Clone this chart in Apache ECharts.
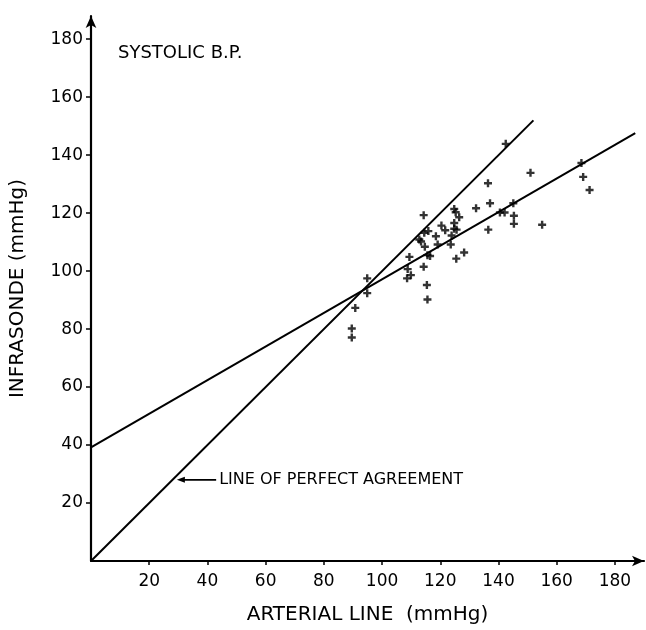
<!DOCTYPE html>
<html>
<head>
<meta charset="utf-8">
<title>Systolic B.P.</title>
<script src="https://cdn.jsdelivr.net/npm/echarts@6/dist/echarts.min.js"></script>
<style>
  html, body { margin: 0; padding: 0; background: #fff; }
  #main { width: 646px; height: 630px; }
</style>
</head>
<body>
<div id="main"></div>
<script>
// arterial line (x) vs infrasonde (y), mmHg
var points = [
  [89.6, 80.2], [89.6, 77.1], [90.8, 87.3], [94.9, 92.4], [94.9, 97.5],
  [108.6, 97.5], [109.9, 98.6], [108.8, 100.7], [109.4, 104.9], [114.3, 101.5],
  [115.4, 95.2], [115.6, 90.2], [115.6, 105.5], [116.5, 105.2], [114.7, 108.4],
  [112.8, 110.9], [113.4, 110.2], [114.5, 113.2], [115.9, 113.8], [114.3, 119.3],
  [118.5, 112.0], [119.1, 109.2], [120.4, 115.7], [121.7, 114.1], [123.6, 109.2],
  [123.9, 112.3], [124.8, 114.6], [124.8, 116.6], [125.6, 114.3], [124.8, 121.4],
  [125.3, 120.3], [126.5, 118.6], [125.5, 104.3], [128.2, 106.4], [132.3, 121.7],
  [136.4, 130.3], [137.1, 123.4], [136.5, 114.3], [140.5, 120.2], [142.1, 120.2],
  [145.1, 123.4], [145.3, 119.1], [145.3, 116.3], [151.0, 133.9], [155.0, 116.0],
  [168.5, 137.3], [169.1, 132.5], [171.3, 128.0], [142.5, 143.9]
];
var perfectLine = [[0, 0], [152, 152]];
var fitLine = [[0, 39.2], [187, 147.6]];
var tickValues = [20, 40, 60, 80, 100, 120, 140, 160, 180];

var font = 'DejaVu Sans';
var chart = echarts.init(document.getElementById('main'));

var option = {
  animation: false,
  backgroundColor: '#fff',
  title: {
    text: 'SYSTOLIC B.P.',
    left: 113,
    top: 39,
    textStyle: { fontFamily: font, fontWeight: 'normal', fontSize: 18, color: '#000' }
  },
  grid: { left: 87, right: 2, top: 16, bottom: 64 },
  xAxis: {
    type: 'value',
    min: 0,
    max: 190,
    interval: 20,
    name: 'ARTERIAL LINE  (mmHg)',
    nameLocation: 'middle',
    nameGap: 44,
    nameTextStyle: { fontFamily: font, fontSize: 20, color: '#000' },
    splitLine: { show: false },
    axisLine: { lineStyle: { color: '#000', width: 2.2 }, symbol: ['none', 'arrow'], symbolSize: [8, 12] },
    axisTick: { lineStyle: { color: '#000', width: 1.5 }, length: 4, customValues: tickValues },
    axisLabel: {
      fontFamily: font, fontSize: 17, color: '#000', margin: 12,
      customValues: tickValues
    }
  },
  yAxis: {
    type: 'value',
    min: 0,
    max: 188,
    interval: 20,
    name: 'INFRASONDE (mmHg)',
    nameLocation: 'middle',
    nameGap: 63,
    nameTextStyle: { fontFamily: font, fontSize: 20, color: '#000' },
    splitLine: { show: false },
    axisLine: { lineStyle: { color: '#000', width: 2.2 }, symbol: ['none', 'arrow'], symbolSize: [8, 12] },
    axisTick: { lineStyle: { color: '#000', width: 1.5 }, length: 5, customValues: tickValues },
    axisLabel: {
      fontFamily: font, fontSize: 17, color: '#000', margin: 8,
      customValues: tickValues
    }
  },
  series: [
    {
      type: 'line',
      data: perfectLine,
      symbol: 'none',
      lineStyle: { color: '#000', width: 2 },
      z: 2
    },
    {
      type: 'line',
      data: fitLine,
      symbol: 'none',
      lineStyle: { color: '#000', width: 2 },
      z: 2
    },
    {
      type: 'scatter',
      data: points,
      symbol: 'path://M3.5 0H6.5V3.5H10V6.5H6.5V10H3.5V6.5H0V3.5H3.5Z',
      symbolSize: 8,
      itemStyle: { color: '#000' },
      z: 3
    }
  ]
};
chart.setOption(option);

// annotation for the identity line
var tip = chart.convertToPixel({ gridIndex: 0 }, [29.5, 28]);
var tail = chart.convertToPixel({ gridIndex: 0 }, [43, 28]);
chart.setOption({
  graphic: [
    {
      type: 'line',
      shape: { x1: tip[0] + 4, y1: tip[1], x2: tail[0], y2: tail[1] },
      style: { stroke: '#000', lineWidth: 1.6 }
    },
    {
      type: 'polygon',
      shape: { points: [[tip[0], tip[1]], [tip[0] + 8, tip[1] - 3], [tip[0] + 8, tip[1] + 3]] },
      style: { fill: '#000' }
    },
    {
      type: 'text',
      x: tail[0] + 3,
      y: tail[1],
      style: {
        text: 'LINE OF PERFECT AGREEMENT',
        fontFamily: font, fontSize: 16, fill: '#000',
        verticalAlign: 'middle'
      }
    }
  ]
});
</script>
</body>
</html>
